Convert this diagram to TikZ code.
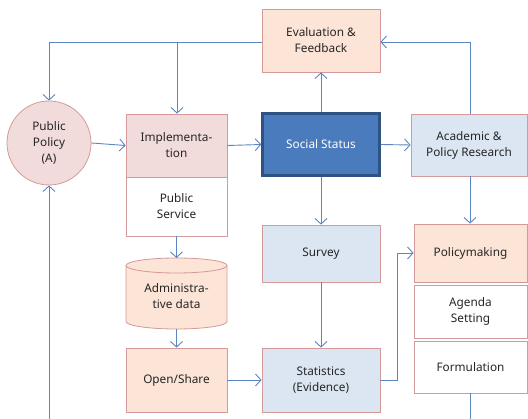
\documentclass[tikz,border=0pt]{standalone}
\usepackage{fontspec}
\setmainfont{Noto Sans}
\usetikzlibrary{arrows.meta}
\definecolor{peach}{HTML}{FCE4D6}
\definecolor{pinkf}{HTML}{F2DCDB}
\definecolor{bluef}{HTML}{DCE6F2}
\definecolor{bord}{HTML}{D49A9A}
\definecolor{arr}{HTML}{5B86C0}
\definecolor{ssfill}{HTML}{4A7BBD}
\definecolor{ssbord}{HTML}{2E5283}
\definecolor{txt}{HTML}{262626}
\tikzset{
  box/.style={draw=bord, line width=0.8pt, align=center, inner sep=1pt, text=txt,
    font=\fontsize{11.8}{16}\selectfont},
  conn/.style={draw=arr, line width=0.9pt, -{Straight Barb[length=5.5pt,width=12pt,line width=0.9pt]}},
  plain/.style={draw=arr, line width=0.9pt},
}
\begin{document}
\begin{tikzpicture}[x=1pt,y=-1pt]
\useasboundingbox (0,0) rectangle (528,419);
% nodes
\node[box, fill=peach, minimum width=118pt, minimum height=63pt] (eval) at (321,40.5) {Evaluation \&\\Feedback};
\node[box, circle, fill=pinkf, minimum size=84pt] (pp) at (49,143) {Public\\Policy\\(A)};
\node[box, fill=pinkf, minimum width=101pt, minimum height=63pt] (impl) at (176.5,145.5) {Implementa-\\tion};
\node[box, fill=white, minimum width=101pt, minimum height=59pt] (ps) at (176.5,206.5) {Public\\Service};
\node[box, draw=ssbord, line width=2.5pt, fill=ssfill, text=white, minimum width=117pt, minimum height=62pt] (ss) at (321,144.5) {Social Status};
\node[box, fill=bluef, minimum width=116pt, minimum height=62pt] (acad) at (469,145) {Academic \&\\Policy Research};
\node[box, fill=bluef, minimum width=118pt, minimum height=57pt] (survey) at (321,253.5) {Survey};
\node[box, fill=bluef, minimum width=118pt, minimum height=64pt] (stats) at (321,380) {Statistics\\(Evidence)};
\node[box, fill=peach, minimum width=113pt, minimum height=58pt] (pm) at (470.5,253) {Policymaking};
\node[box, fill=white, minimum width=113pt, minimum height=53pt] (agenda) at (470.5,311.5) {Agenda\\Setting};
\node[box, fill=white, minimum width=113pt, minimum height=52pt] (form) at (470.5,367) {Formulation};
\node[box, fill=peach, minimum width=101pt, minimum height=64pt] (open) at (176.5,380) {Open/Share};
% cylinder
\draw[bord, line width=0.8pt, fill=peach] (126,265.5) -- (126,321.5) arc (180:360:50.5pt and 7.5pt) -- (227,265.5) arc (0:180:50.5pt and 7.5pt) -- cycle;
\draw[bord, line width=0.8pt] (126,265.5) arc (180:360:50.5pt and 7.5pt);
\node[align=center, text=txt, font=\fontsize{11.8}{16}\selectfont] (adm) at (176.5,296) {Administra-\\tive data};
\coordinate (cyltop) at (176.5,258);
\coordinate (cylbot) at (176.5,329);
\coordinate (bl) at (49,419);
\coordinate (br) at (470.5,419);
% connectors
\draw[conn] (eval.west |- 0,42) -| (pp.north);
\draw[conn] (177,42) -- (impl.north -| 177,0);
\draw[conn] (ss.north) -- (eval.south);
\draw[conn] (acad.north -| 470,0) |- (eval.east |- 0,42);
\draw[conn] (pp.east) -- (impl.west);
\draw[conn] (impl.east) -- (ss.west);
\draw[conn] (ss.east) -- (acad.west);
\draw[conn] (ps.south) -- (cyltop);
\draw[conn] (cylbot) -- (open.north);
\draw[conn] (open.east) -- (stats.west);
\draw[conn] (ss.south) -- (survey.north);
\draw[conn] (survey.south) -- (stats.north);
\draw[conn] (acad.south -| 470,0) -- (pm.north -| 470,0);
\draw[conn] (stats.east) -- (397,380) |- (pm.west);
\draw[conn] (bl) -- (pp.south);
\draw[plain] (form.south) -- (br);
\end{tikzpicture}
\end{document}
